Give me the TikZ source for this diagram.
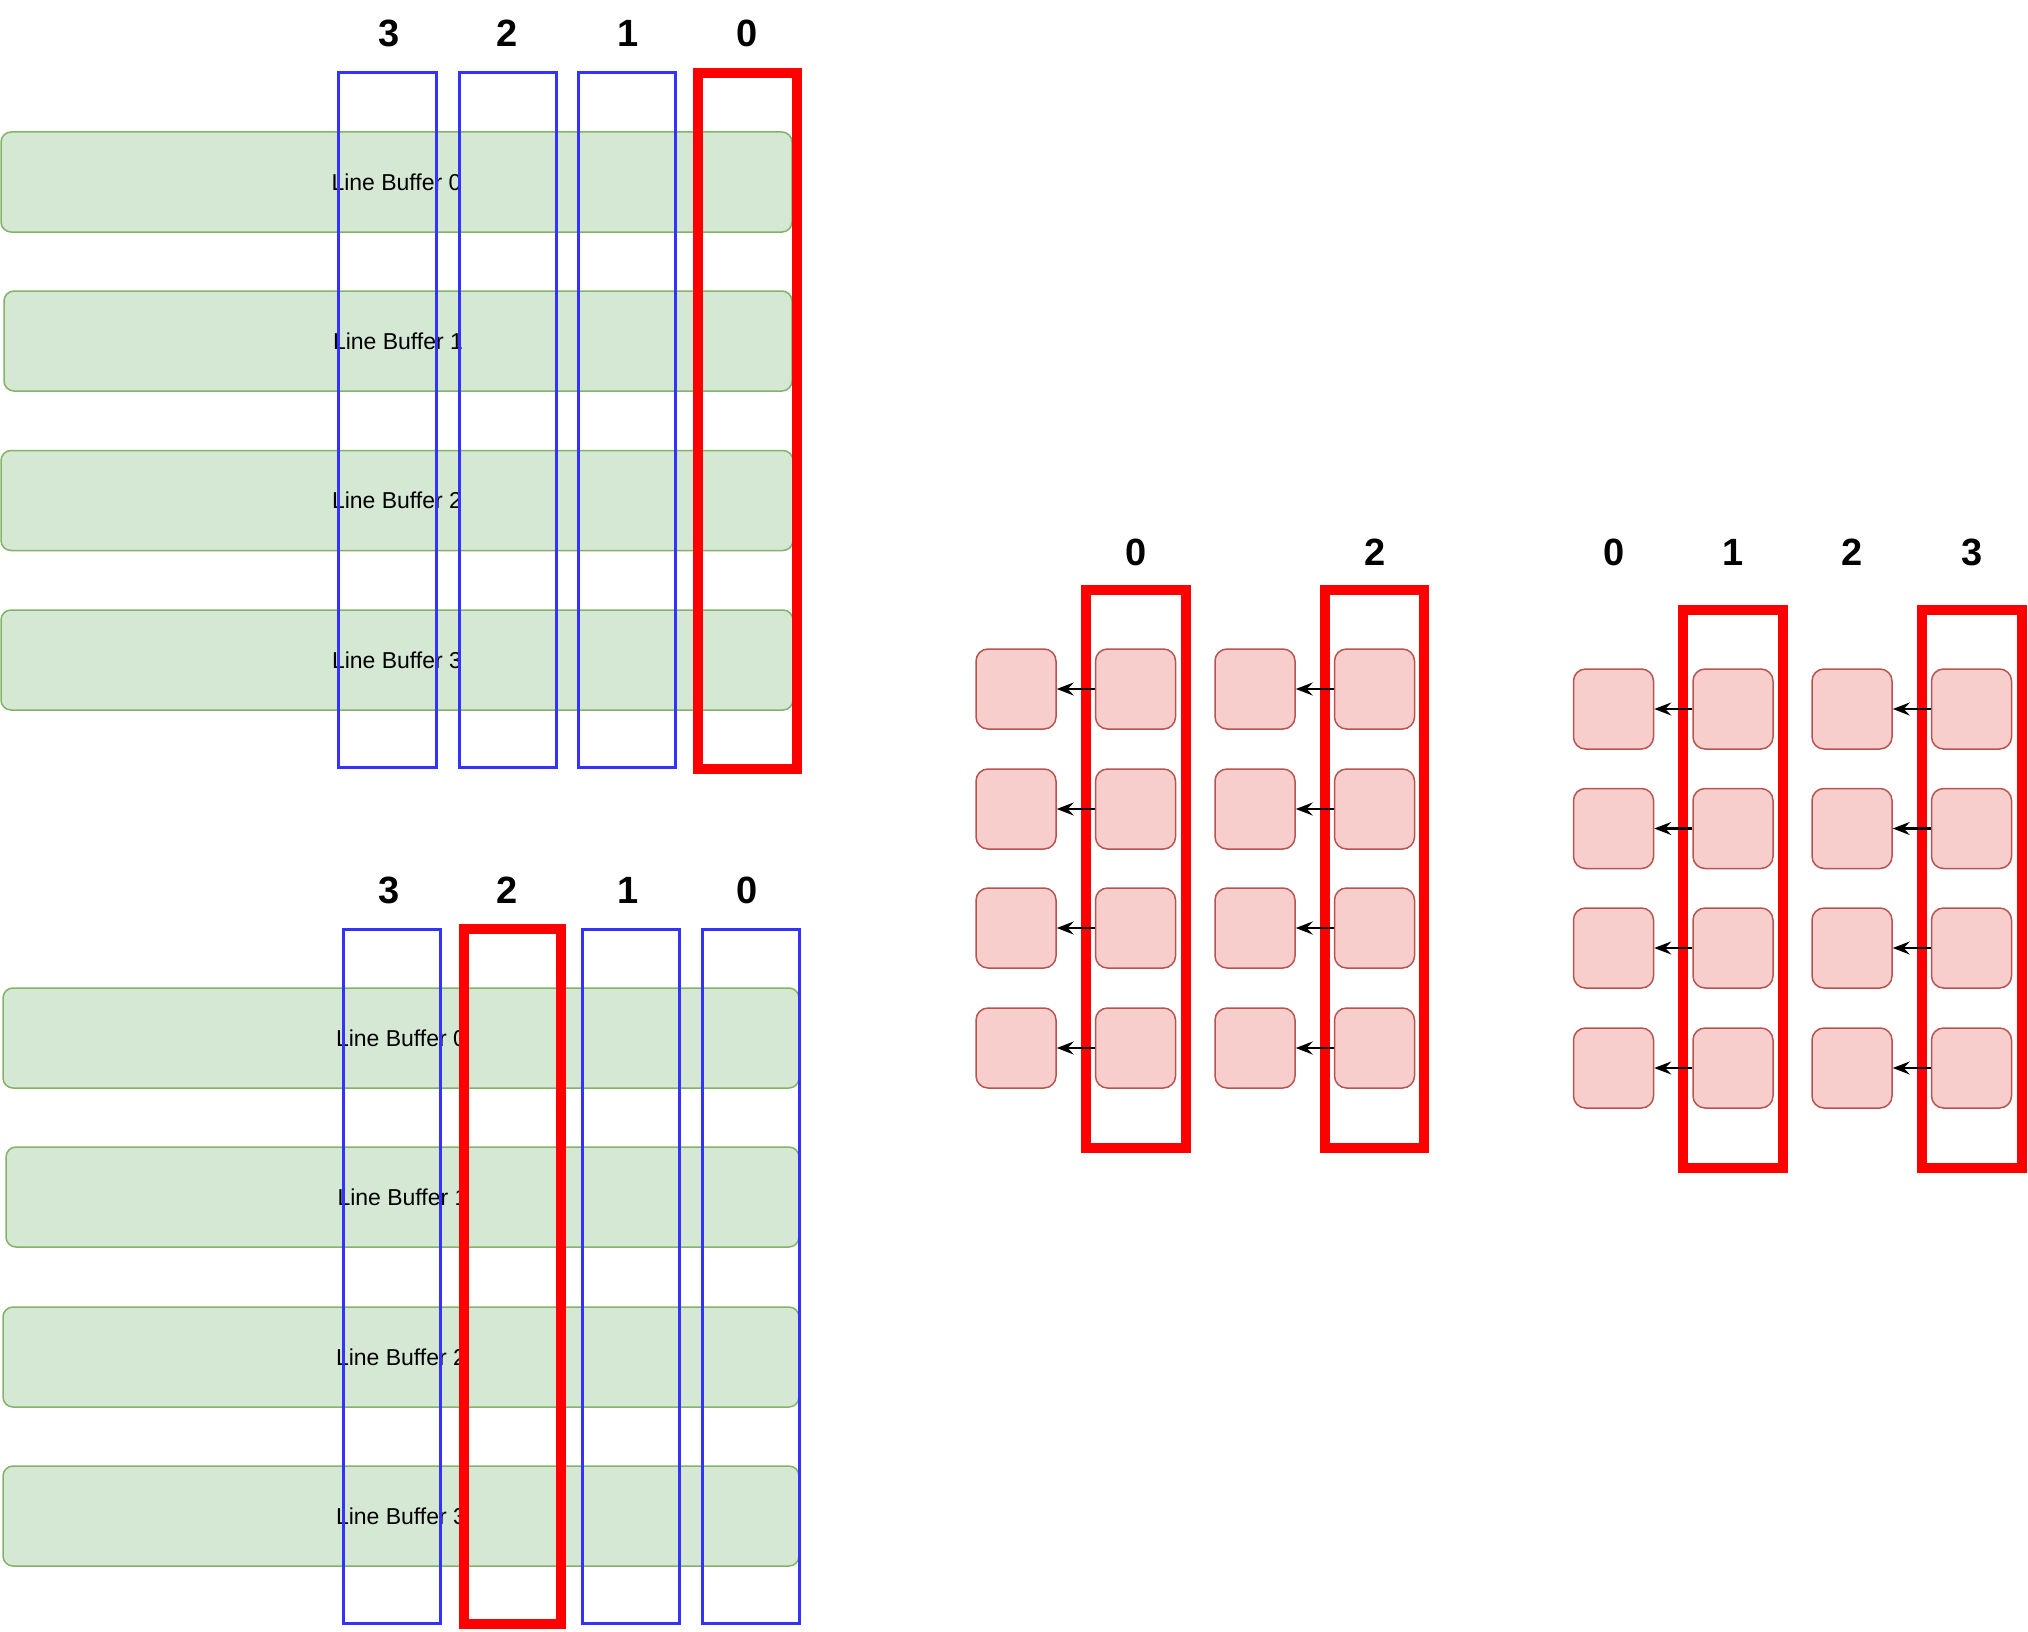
\documentclass[tikz,border=0pt]{standalone}
\usepackage{fontspec}
\setmainfont{Liberation Sans}
\usetikzlibrary{arrows.meta}
\definecolor{lbfill}{HTML}{D5E8D4}
\definecolor{lbstroke}{HTML}{82B366}
\definecolor{pkfill}{HTML}{F8CECC}
\definecolor{pkstroke}{HTML}{B85450}
\definecolor{blueC}{HTML}{3333FF}
\definecolor{redC}{HTML}{FF0000}
\tikzset{
  lbar/.style={rectangle, rounded corners=10pt, draw=lbstroke, fill=lbfill, line width=1.5pt,
    minimum height=100pt, inner sep=0pt, font=\fontsize{23}{27}\selectfont},
  bluebox/.style={rectangle, draw=blueC, line width=3pt, inner sep=0pt},
  redbox/.style={rectangle, draw=redC, line width=10pt, inner sep=0pt},
  cell/.style={rectangle, rounded corners=12pt, draw=pkstroke, fill=pkfill, line width=1.5pt,
    minimum width=80pt, minimum height=80pt, inner sep=0pt},
  idx/.style={font=\fontsize{38}{40}\selectfont\bfseries, inner sep=0pt},
  shiftarr/.style={-{Stealth[length=17pt,width=13pt,inset=6pt]}, line width=2.5pt, black},
}
\begin{document}
\begin{tikzpicture}[x=1pt,y=-1pt]
\useasboundingbox (0,0) rectangle (2028,1632);

% ---------------- top-left group ----------------
\node[lbar, minimum width=791pt] (t-lb0) at (396.5,182) {Line Buffer 0};
\node[lbar, minimum width=788pt] (t-lb1) at (398,341) {Line Buffer 1};
\node[lbar, minimum width=792pt] (t-lb2) at (397,500.5) {Line Buffer 2};
\node[lbar, minimum width=792pt] (t-lb3) at (397,660) {Line Buffer 3};

\node[bluebox, minimum width=98pt, minimum height=695pt] (t-c3) at (387.5,420) {};
\node[bluebox, minimum width=97pt, minimum height=695pt] (t-c2) at (507.75,420) {};
\node[bluebox, minimum width=97pt, minimum height=695pt] (t-c1) at (627,420) {};
\node[redbox, minimum width=99pt, minimum height=695.5pt] (t-c0) at (747.5,420.75) {};

\node[idx] (t-l3) at (389,33.5) {3};
\node[idx] (t-l2) at (507,33.5) {2};
\node[idx] (t-l1) at (628,33.5) {1};
\node[idx] (t-l0) at (747,33.5) {0};

% ---------------- bottom-left group ----------------
\node[lbar, minimum width=796pt] (b-lb0) at (401,1038) {Line Buffer 0};
\node[lbar, minimum width=793pt] (b-lb1) at (402.5,1197) {Line Buffer 1};
\node[lbar, minimum width=796pt] (b-lb2) at (401,1357) {Line Buffer 2};
\node[lbar, minimum width=796pt] (b-lb3) at (401,1516) {Line Buffer 3};

\node[bluebox, minimum width=97.5pt, minimum height=694pt] (b-c3) at (391.75,1276.5) {};
\node[redbox, minimum width=97pt, minimum height=695pt] (b-c2) at (512.5,1276.5) {};
\node[bluebox, minimum width=97.5pt, minimum height=694pt] (b-c1) at (630.75,1276.5) {};
\node[bluebox, minimum width=97pt, minimum height=694pt] (b-c0) at (751,1276.5) {};

\node[idx] (b-l3) at (389,890) {3};
\node[idx] (b-l2) at (507,890) {2};
\node[idx] (b-l1) at (628,890) {1};
\node[idx] (b-l0) at (747,890) {0};

% ---------------- middle group ----------------
\foreach \c/\x in {a/1016,b/1135.5,c/1255,d/1374.5}{
  \foreach \r/\y in {1/689,2/809,3/928,4/1048}{
    \node[cell] (m-\c\r) at (\x,\y) {};
  }
}
\node[redbox, minimum width=99.5pt, minimum height=557.5pt] (m-r0) at (1135.75,868.75) {};
\node[redbox, minimum width=99pt, minimum height=557.5pt] (m-r2) at (1374.5,868.75) {};
\foreach \r in {1,2,3,4}{
  \draw[shiftarr] (m-b\r.west) -- (m-a\r.east);
  \draw[shiftarr] (m-d\r.west) -- (m-c\r.east);
}
\node[idx] (m-l0) at (1136,552) {0};
\node[idx] (m-l2) at (1375,552) {2};

% ---------------- right group ----------------
\foreach \c/\x in {a/1613.5,b/1733,c/1852,d/1971.5}{
  \foreach \r/\y in {1/709,2/828.5,3/948,4/1068}{
    \node[cell] (r-\c\r) at (\x,\y) {};
  }
}
\node[redbox, minimum width=100pt, minimum height=557.5pt] (r-r1) at (1733,888.75) {};
\node[redbox, minimum width=100pt, minimum height=557.5pt] (r-r3) at (1972,888.75) {};
\foreach \r in {1,2,3,4}{
  \draw[shiftarr] (r-b\r.west) -- (r-a\r.east);
  \draw[shiftarr] (r-d\r.west) -- (r-c\r.east);
}
\node[idx] (r-l0) at (1614,552) {0};
\node[idx] (r-l1) at (1733,552) {1};
\node[idx] (r-l2) at (1852,552) {2};
\node[idx] (r-l3) at (1972,552) {3};
\end{tikzpicture}
\end{document}
